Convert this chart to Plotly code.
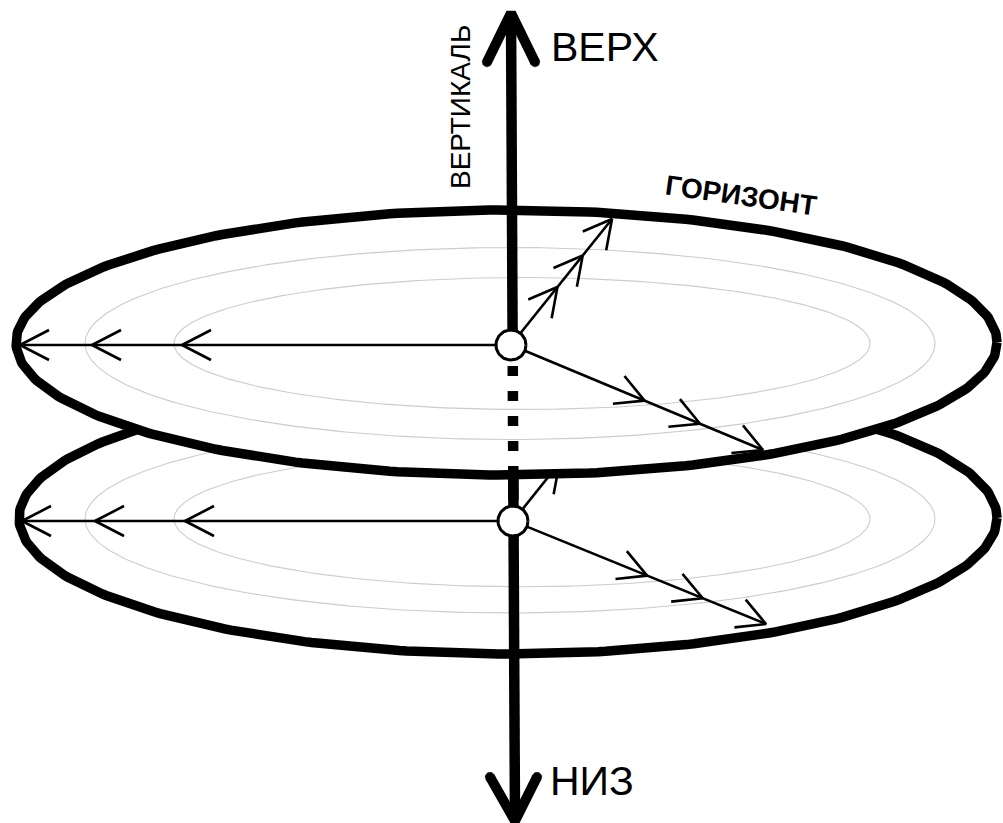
import numpy as np
import plotly.graph_objects as go

# ---- diagram parameters (pixel space of the 1003x823 canvas) ----
W, H = 1003, 823

disk_cx = [506.5, 508.0]      # upper, lower
disk_cy = [342.5, 518.0]
disk_rx = [490.5, 489.0]
disk_ry = [132.5, 136.0]

ring_cx = [510.0, 522.0]      # two faint inner rings per disk
ring_rx = [425.0, 348.0]
ring_ry = [96.0, 66.0]

hub_x = [511.0, 513.0]
hub_y = [345.0, 521.0]
hub_r = 15.0

left_tips = [[20, 92, 182], [22, 95, 185]]
upright_end = [(612, 219), (614, 395)]
upright_t = [0.46, 0.71, 1.0]
downright_end = [(763, 450), (766, 624)]
downright_t = [0.53, 0.75, 1.0]

axis_top = (511, 13)
axis_bottom = (515, 821)

labels = ["ВЕРХ", "НИЗ", "ВЕРТИКАЛЬ", "ГОРИЗОНТ"]

fig = go.Figure()


def ellipse(cx, cy, rx, ry, n=400):
    t = np.linspace(0, 2 * np.pi, n)
    return cx + rx * np.cos(t), cy + ry * np.sin(t)


def add_line(xs, ys, width=2.6, color="black", dash=None):
    fig.add_trace(go.Scatter(x=list(xs), y=list(ys), mode="lines",
                             line=dict(color=color, width=width, dash=dash),
                             hoverinfo="skip", showlegend=False))


def dot(x, y, r):
    cx, cy = ellipse(x, y, r, r, 30)
    fig.add_trace(go.Scatter(x=cx, y=cy, mode="lines", fill="toself",
                             fillcolor="black", line=dict(color="black", width=0.5),
                             hoverinfo="skip", showlegend=False))


def chevron(tip, d, back=28, half=15):
    d = np.array(d, float)
    d /= np.linalg.norm(d)
    p = np.array([-d[1], d[0]])
    tip = np.array(tip, float)
    a = tip - back * d + half * p
    b = tip - back * d - half * p
    add_line([a[0], tip[0], b[0]], [a[1], tip[1], b[1]])


def arrow(hx, hy, end, ts):
    d = np.array([end[0] - hx, end[1] - hy], float)
    u = d / np.linalg.norm(d)
    sx, sy = hx + hub_r * u[0], hy + hub_r * u[1]
    add_line([sx, end[0]], [sy, end[1]])
    for t in ts:
        chevron((hx + t * d[0], hy + t * d[1]), d)


def axis_x(y):
    f = (y - axis_top[1]) / (axis_bottom[1] - axis_top[1])
    return axis_top[0] + f * (axis_bottom[0] - axis_top[0])


def disk(i):
    ex, ey = ellipse(disk_cx[i], disk_cy[i], disk_rx[i], disk_ry[i])
    fig.add_trace(go.Scatter(x=ex, y=ey, mode="lines", fill="toself",
                             fillcolor="white",
                             line=dict(color="black", width=9.5),
                             hoverinfo="skip", showlegend=False))
    for k in range(len(ring_rx)):
        rx, ry = ring_rx[k], ring_ry[k] * disk_ry[i] / disk_ry[0]
        if i == 1 and k == 0:
            ry = 94.0
        gx, gy = ellipse(ring_cx[k], disk_cy[i] + 1, rx, ry)
        add_line(gx, gy, width=1.1, color="#cccccc")
    hx, hy = hub_x[i], hub_y[i]
    # left arrow
    add_line([hx - hub_r, left_tips[i][0]], [hy, hy])
    for tx in left_tips[i]:
        chevron((tx, hy), (-1, 0), back=29, half=15)
    arrow(hx, hy, upright_end[i], upright_t)
    arrow(hx, hy, downright_end[i], downright_t)


def hub(i):
    cx, cy = ellipse(hub_x[i], hub_y[i], hub_r, hub_r, 60)
    fig.add_trace(go.Scatter(x=cx, y=cy, mode="lines", fill="toself",
                             fillcolor="white",
                             line=dict(color="black", width=3),
                             hoverinfo="skip", showlegend=False))


# lower disk and lower part of the vertical axis
disk(1)
add_line([axis_x(400), axis_x(axis_bottom[1] - 6)], [400, axis_bottom[1] - 6], width=10.5)
hub(1)

# upper disk
disk(0)
add_line([axis_x(366), axis_x(478)], [366, 478], width=10.5, dash="10px,15px")
add_line([axis_x(478), axis_x(500)], [478, 500], width=10.5)
add_line([axis_x(hub_y[0]), axis_x(axis_top[1] + 6)], [hub_y[0], axis_top[1] + 6], width=10.5)
hub(0)

# arrow heads of the vertical axis
ax_, ay_ = axis_top
add_line([ax_ - 24, ax_, ax_ + 24], [ay_ + 49, ay_, ay_ + 49], width=10)
dot(ax_ - 24, ay_ + 49, 4.8)
dot(ax_ + 24, ay_ + 49, 4.8)
bx_, by_ = axis_bottom
add_line([bx_ - 25, bx_, bx_ + 22], [by_ - 44, by_, by_ - 44], width=10)
dot(bx_ - 25, by_ - 44, 4.8)
dot(bx_ + 22, by_ - 44, 4.8)

font_main = "Liberation Sans, Arial, sans-serif"
fig.add_annotation(x=549, y=47, text=labels[0], showarrow=False, xanchor="left",
                   yanchor="middle", font=dict(family=font_main, size=41, color="black"))
fig.add_annotation(x=548, y=781, text=labels[1], showarrow=False, xanchor="left",
                   yanchor="middle", font=dict(family=font_main, size=41, color="black"))
fig.add_annotation(x=460, y=107, text=labels[2], showarrow=False, textangle=-90,
                   xanchor="center", yanchor="middle",
                   font=dict(family=font_main, size=28, color="black"))
fig.add_annotation(x=741, y=195, text="<b>" + labels[3] + "</b>", showarrow=False,
                   textangle=8, xanchor="center", yanchor="middle",
                   font=dict(family=font_main, size=28, color="black"))

fig.update_layout(width=W, height=H, autosize=False,
                  margin=dict(l=0, r=0, t=0, b=0),
                  paper_bgcolor="white", plot_bgcolor="white",
                  xaxis=dict(range=[0, W], visible=False, fixedrange=True),
                  yaxis=dict(range=[H, 0], visible=False, fixedrange=True),
                  showlegend=False)

fig.write_html("out.html", config={"displayModeBar": False},
               post_script="document.body.style.margin='0';document.body.style.overflow='hidden';")
